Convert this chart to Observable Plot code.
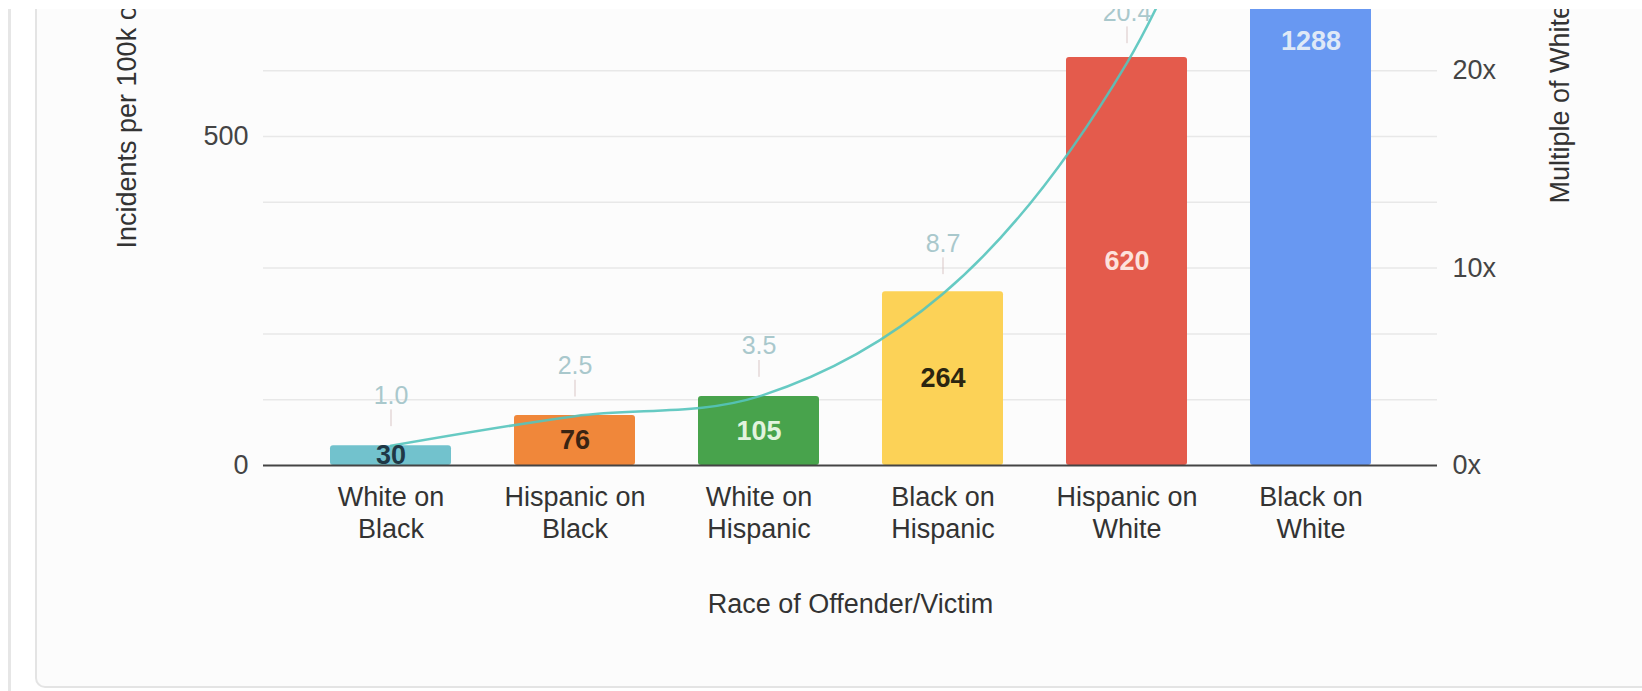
<!DOCTYPE html>
<html>
<head>
<meta charset="utf-8">
<script src="https://cdn.jsdelivr.net/npm/d3@7"></script>
<script src="https://cdn.jsdelivr.net/npm/@observablehq/plot@0.6"></script>
<style>
  html, body { margin: 0; padding: 0; background: #ffffff; }
  body { width: 1642px; height: 691px; position: relative; overflow: hidden; font-family: "Liberation Sans", Arial, sans-serif; }
  #leftline { position: absolute; left: 8px; top: 0; width: 3px; height: 691px; background: #e6e6e6; }
  #card { position: absolute; left: 35px; top: -20px; width: 1700px; height: 706px; background: #fcfcfc;
          border-left: 2px solid #e4e4e4; border-bottom: 2px solid #e4e4e4; border-bottom-left-radius: 10px; }
  #topstrip { position: absolute; left: 0; top: 0; width: 1642px; height: 9px; background: #ffffff; z-index: 5; }
  #chart { position: absolute; left: 0; top: 9px; width: 1642px; height: 682px; overflow: hidden; z-index: 3; }
</style>
</head>
<body>
<div id="leftline"></div>
<div id="card"></div>
<div id="topstrip"></div>
<div id="chart"></div>
<script>
// ---- data ----
const categories = ["White on Black", "Hispanic on Black", "White on Hispanic", "Black on Hispanic", "Hispanic on White", "Black on White"];
const incidents = [30, 76, 105, 264, 620, 1288];
const multiples = [1.0, 2.5, 3.5, 8.7, 20.4, 42.4];
const barColors = ["#72c2cd", "#f0873a", "#48a34c", "#fcd257", "#e45b4c", "#6898f2"];
const valueLabelColors = ["#1f3846", "#3a2412", "#e2f3de", "#2b2510", "#fde2dc", "#dfe9f7"];
const leftTicks = [0, 500];
const gridTicks = [100, 200, 300, 400, 500, 600];
const rightTicks = [0, 10, 20];
const incidentsPerMultiple = 30; // right axis: 10x lines up with 300
const yMax = 693;
const xTitle = "Race of Offender/Victim";
const leftTitle = "Incidents per 100k of Population";
const rightTitle = "Multiple of White on Black";

const rows = categories.map((c, i) => ({
  cat: c, value: incidents[i], mult: multiples[i],
  color: barColors[i], labelColor: valueLabelColors[i]
}));

const font = "'Liberation Sans', Arial, sans-serif";

function build(withStems) {
  const marks = [
    Plot.gridY(gridTicks, {stroke: "#e8e8e8", strokeOpacity: 1, strokeWidth: 1.5}),
    Plot.barY(rows, {x: "cat", y: "value", fill: d => d.color, rx: 3, clip: true}),
    Plot.ruleY([0], {stroke: "#444", strokeWidth: 2}),
    Plot.line(rows, {x: "cat", y: d => d.mult * incidentsPerMultiple, stroke: "#55c4bc", strokeOpacity: 0.9,
      strokeWidth: 2.5, curve: "catmull-rom", clip: true})
  ];
  if (withStems) {
    marks.push(Plot.vector(rows, {x: "cat", y: d => d.mult * incidentsPerMultiple, dy: -20, length: 16, rotate: 0,
      anchor: "start", stroke: "#d9c6c6", strokeWidth: 1,
      shape: {draw(context, l) { context.moveTo(0, 0); context.lineTo(0, -l); }}}));
  }
  marks.push(
    Plot.text(rows, {x: "cat", y: d => d.value / 2, text: d => String(d.value), fill: d => d.labelColor,
      fontWeight: "bold", fontSize: 27}),
    Plot.text(rows, {x: "cat", y: d => d.mult * incidentsPerMultiple, dy: -50, text: d => d.mult.toFixed(1),
      fill: "#a9c8cc", fontSize: 25}),
    Plot.axisY({ticks: leftTicks, tickSize: 0, tickPadding: 15, label: null, fontSize: 27, color: "#444"}),
    Plot.axisY({anchor: "right", ticks: rightTicks.map(t => t * incidentsPerMultiple),
      tickFormat: d => `${d / incidentsPerMultiple}x`, tickSize: 0, tickPadding: 15, label: null, fontSize: 27, color: "#444"}),
    Plot.text(categories, {x: d => d, frameAnchor: "bottom", dy: 72, text: d => d.replace(" on ", " on\n"),
      lineHeight: 1.185, fill: "#333", fontSize: 27}),
    Plot.text([xTitle], {frameAnchor: "bottom", dy: 147, text: d => d, fill: "#333", fontSize: 27}),
    Plot.text([leftTitle], {frameAnchor: "left", dx: -136, dy: 11, rotate: -90, textAnchor: "start",
      text: d => d, fill: "#333", fontSize: 27}),
    Plot.text([rightTitle], {frameAnchor: "right", dx: 123, dy: -34, rotate: -90, textAnchor: "start",
      text: d => d, fill: "#333", fontSize: 27})
  );
  return Plot.plot({
    width: 1642, height: 682,
    marginTop: 0, marginLeft: 263, marginRight: 205, marginBottom: 226,
    style: {background: "transparent", fontFamily: font, fontSize: "27px", color: "#444", overflow: "hidden"},
    x: {type: "band", domain: categories, paddingInner: 0.345, paddingOuter: 0.352, axis: null},
    y: {domain: [0, yMax], axis: null},
    color: {type: "identity"},
    marks
  });
}

let chart;
try { chart = build(true); } catch (e) { chart = build(false); }
document.getElementById("chart").appendChild(chart);
</script>
</body>
</html>
